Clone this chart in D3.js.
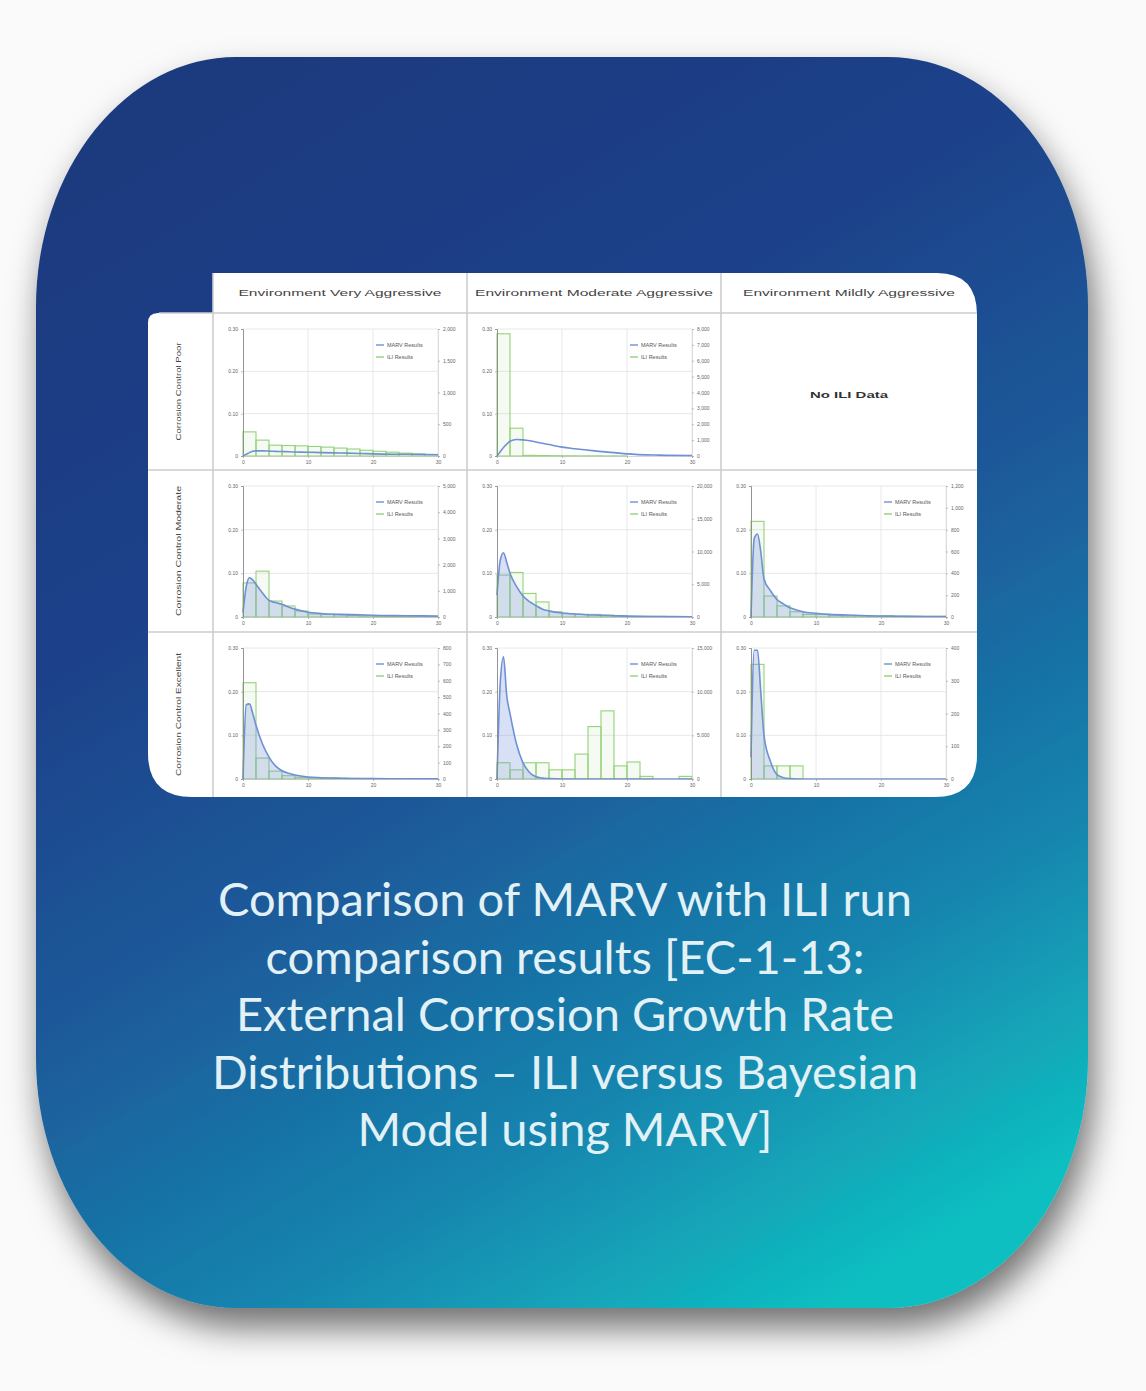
<!DOCTYPE html>
<html><head><meta charset="utf-8">
<script src="https://cdn.jsdelivr.net/npm/d3@7"></script>
<style>
html,body{margin:0;padding:0;background:#fafafa;}
svg{display:block;}
</style></head><body>
<svg id="c" width="1146" height="1391"></svg>
<script>
// ---------- data ----------
const colHeaders = ["Environment Very Aggressive", "Environment Moderate Aggressive", "Environment Mildly Aggressive"];
const rowHeaders = ["Corrosion Control Poor", "Corrosion Control Moderate", "Corrosion Control Excellent"];
const legendLabels = ["MARV Results", "ILI Results"];
const noDataText = "No ILI Data";
const xTicks = [0, 10, 20, 30];
const binStarts = [0, 2, 4, 6, 8, 10, 12, 14, 16, 18, 20, 22, 24, 26, 28];
const binWidth = 2;
const curveX = [0, 0.5, 1, 1.5, 2, 3, 4, 5, 6, 7, 8, 10, 12, 15, 18, 20, 25, 30];
const leftTicks = [0, 0.1, 0.2, 0.3];

// Poor / Very
const rightTicksPoorVery = [0, 500, 1000, 1500, 2000];
const iliPoorVery = [380, 250, 170, 165, 160, 150, 140, 125, 110, 90, 75, 60, 45, 35, 25];
const marvPoorVery = [0, 0.004, 0.008, 0.011, 0.012, 0.012, 0.0115, 0.011, 0.0105, 0.01, 0.0095, 0.009, 0.008, 0.007, 0.006, 0.005, 0.004, 0.003];
// Poor / Moderate
const rightTicksPoorModerate = [0, 1000, 2000, 3000, 4000, 5000, 6000, 7000, 8000];
const iliPoorModerate = [7700, 1750, 40, 30, 20, 15, 10, 10, 5, 5, 0, 0, 0, 0, 0];
const marvPoorModerate = [0, 0.01, 0.02, 0.028, 0.035, 0.039, 0.038, 0.036, 0.033, 0.03, 0.027, 0.021, 0.017, 0.012, 0.008, 0.005, 0.002, 0.001];
// Moderate / Very
const rightTicksModVery = [0, 1000, 2000, 3000, 4000, 5000];
const iliModVery = [1300, 1750, 610, 420, 230, 115, 100, 80, 60, 50, 40, 30, 20, 15, 10];
const marvModVery = [0.01, 0.07, 0.09, 0.085, 0.075, 0.055, 0.038, 0.033, 0.029, 0.023, 0.018, 0.011, 0.008, 0.006, 0.005, 0.004, 0.003, 0.002];
// Moderate / Moderate
const rightTicksModModerate = [0, 5000, 10000, 15000, 20000];
const iliModModerate = [6400, 6800, 3600, 2300, 800, 500, 400, 400, 300, 200, 100, 100, 100, 60, 60];
const marvModModerate = [0.05, 0.13, 0.147, 0.125, 0.1, 0.07, 0.048, 0.035, 0.026, 0.018, 0.014, 0.009, 0.007, 0.0045, 0.003, 0.002, 0.001, 0.0006];
// Moderate / Mildly
const rightTicksModMildly = [0, 200, 400, 600, 800, 1000, 1200];
const iliModMildly = [876, 192, 102, 48, 24, 24, 18, 12, 12, 6, 12, 6, 6, 6, 6];
const marvModMildly = [0, 0.18, 0.19, 0.15, 0.087, 0.06, 0.04, 0.03, 0.021, 0.016, 0.012, 0.0085, 0.006, 0.0045, 0.003, 0.0024, 0.0015, 0.001];
// Excellent / Very
const rightTicksExcVery = [0, 100, 200, 300, 400, 500, 600, 700, 800];
const iliExcVery = [588, 128, 48, 20, 10, 8, 6, 5, 4, 3, 2, 2, 2, 1, 1];
const marvExcVery = [0, 0.17, 0.172, 0.15, 0.123, 0.08, 0.05, 0.03, 0.019, 0.013, 0.009, 0.0045, 0.003, 0.0018, 0.001, 0.0009, 0.0005, 0.0003];
// Excellent / Moderate
const rightTicksExcModerate = [0, 5000, 10000, 15000];
const iliExcModerate = [1860, 1050, 1860, 1860, 1050, 1050, 2850, 6000, 7800, 1500, 1950, 300, 0, 0, 300];
const marvExcModerate = [0, 0.22, 0.28, 0.19, 0.15, 0.08, 0.037, 0.015, 0.005, 0.002, 0.001, 0, 0, 0, 0, 0, 0, 0];
// Excellent / Mildly
const rightTicksExcMildly = [0, 100, 200, 300, 400];
const iliExcMildly = [350, 40, 40, 40, 0, 0, 0, 0, 0, 0, 0, 0, 0, 0, 0];
const marvExcMildly = [0.05, 0.295, 0.295, 0.2, 0.1, 0.04, 0.01, 0.003, 0.001, 0, 0, 0, 0, 0, 0, 0, 0, 0];

const captionLines = [
  "Comparison of MARV with ILI run",
  "comparison results [EC-1-13:",
  "External Corrosion Growth Rate",
  "Distributions \u2013 ILI versus Bayesian",
  "Model using MARV]"
];

// panel table built from the arrays above
const panels = [
  {row:0, col:0, rt:rightTicksPoorVery, ili:iliPoorVery, marv:marvPoorVery, fill:false},
  {row:0, col:1, rt:rightTicksPoorModerate, ili:iliPoorModerate, marv:marvPoorModerate, fill:false},
  {row:1, col:0, rt:rightTicksModVery, ili:iliModVery, marv:marvModVery, fill:true},
  {row:1, col:1, rt:rightTicksModModerate, ili:iliModModerate, marv:marvModModerate, fill:true},
  {row:1, col:2, rt:rightTicksModMildly, ili:iliModMildly, marv:marvModMildly, fill:true},
  {row:2, col:0, rt:rightTicksExcVery, ili:iliExcVery, marv:marvExcVery, fill:true},
  {row:2, col:1, rt:rightTicksExcModerate, ili:iliExcModerate, marv:marvExcModerate, fill:true},
  {row:2, col:2, rt:rightTicksExcMildly, ili:iliExcMildly, marv:marvExcMildly, fill:true}
];

// ---------- layout ----------
const svg = d3.select("#c");
const defs = svg.append("defs");
const grad = defs.append("linearGradient").attr("id","bg")
  .attr("x1","0.25").attr("y1","0").attr("x2","0.75").attr("y2","1");
[[0,"#1b3a7f"],[0.3,"#1c418a"],[0.55,"#1b5c9b"],[0.78,"#1784ae"],[1,"#0fbfc1"]]
  .forEach(([o,c]) => grad.append("stop").attr("offset",o).attr("stop-color",c));
const sh = defs.append("filter").attr("id","sh").attr("x","-20%").attr("y","-20%").attr("width","140%").attr("height","150%");
sh.append("feDropShadow").attr("dx",6).attr("dy",20).attr("stdDeviation",17)
  .attr("flood-color","#000").attr("flood-opacity",0.55);

// card
const L=36, R=1088, T=57, B=1308, rx=200, ry=250;
const cardPath = `M${L+rx},${T} H${R-rx} A${rx},${ry} 0 0 1 ${R},${T+ry} V${B-ry} A${rx},${ry} 0 0 1 ${R-rx},${B} H${L+rx} A${rx},${ry} 0 0 1 ${L},${B-ry} V${T+ry} A${rx},${ry} 0 0 1 ${L+rx},${T} Z`;
svg.append("path").attr("d",cardPath).attr("fill","url(#bg)").attr("filter","url(#sh)");

// white chart panel
const colX = [213, 467, 721, 977];
const rowY = [313, 470, 632, 797];
const pL = 148, hT = 273;
const panelPath = `M213,${hT} H937 Q977,${hT} 977,${hT+42} V755 Q977,797 935,797 H192 Q${pL},797 ${pL},753 V323 Q${pL},313 158,313 H213 Z`;
svg.append("path").attr("d",panelPath).attr("fill","#ffffff");

const grid = svg.append("g").attr("stroke","#cdcdcd").attr("stroke-width",1.6);
[213, 467, 721].forEach(x => grid.append("line").attr("x1",x).attr("x2",x).attr("y1",hT).attr("y2",797));
[470, 632].forEach(y => grid.append("line").attr("x1",pL).attr("x2",977).attr("y1",y).attr("y2",y));
grid.append("line").attr("x1",159).attr("x2",977).attr("y1",313).attr("y2",313);

// headers
const hdrLen = [203, 238, 212];
colHeaders.forEach((h,i) => {
  svg.append("text").attr("x",(colX[i]+colX[i+1])/2).attr("y",296)
    .attr("text-anchor","middle").attr("font-family","Liberation Sans, Arial, sans-serif")
    .attr("font-size",8.5).attr("fill","#444")
    .attr("textLength",hdrLen[i]).attr("lengthAdjust","spacingAndGlyphs").text(h);
});
const rowLen = [98, 130, 123];
rowHeaders.forEach((h,i) => {
  const cy = (rowY[i]+rowY[i+1])/2;
  svg.append("text").attr("transform",`translate(181,${cy}) rotate(-90)`)
    .attr("text-anchor","middle").attr("font-family","Liberation Sans, Arial, sans-serif")
    .attr("font-size",8).attr("fill","#444")
    .attr("textLength",rowLen[i]).attr("lengthAdjust","spacingAndGlyphs").text(h);
});

// no data cell
svg.append("text").attr("x",(colX[2]+colX[3])/2).attr("y",398)
  .attr("text-anchor","middle").attr("font-family","Liberation Sans, Arial, sans-serif")
  .attr("font-size",8.5).attr("font-weight","bold").attr("fill","#333")
  .attr("textLength",78).attr("lengthAdjust","spacingAndGlyphs").text(noDataText);

const blue = "#6f90d6", green = "#95d27a";
const fmtL = v => v === 0 ? "0" : d3.format(".2f")(v);
const fmtR = d3.format(",");

panels.forEach(p => {
  const cx = colX[p.col], cy = rowY[p.row];
  const pl = cx + 30, pr = pl + 195;
  const pt = cy + 16, pb = cy + (p.row===0 ? 143 : 147);
  const x = d3.scaleLinear().domain([0,30]).range([pl,pr]);
  const yL = d3.scaleLinear().domain([0,d3.max(leftTicks)]).range([pb,pt]);
  const yR = d3.scaleLinear().domain([0,d3.max(p.rt)]).range([pb,pt]);
  const g = svg.append("g");

  // gridlines
  g.selectAll(".gh").data(leftTicks.slice(1)).join("line")
    .attr("x1",pl).attr("x2",pr).attr("y1",d=>yL(d)).attr("y2",d=>yL(d))
    .attr("stroke","#e2e2e2").attr("stroke-width",0.8);
  g.selectAll(".gv").data(xTicks.slice(1)).join("line")
    .attr("x1",d=>x(d)).attr("x2",d=>x(d)).attr("y1",pt).attr("y2",pb)
    .attr("stroke","#e2e2e2").attr("stroke-width",0.8);

  // ILI histogram
  g.selectAll(".bar").data(p.ili).join("rect")
    .attr("x",(d,i)=>x(binStarts[i])).attr("width",(d,i)=>x(binStarts[i]+binWidth)-x(binStarts[i]))
    .attr("y",d=>yR(d)).attr("height",d=>yR(0)-yR(d))
    .attr("fill","rgba(160,220,130,0.10)").attr("stroke",green).attr("stroke-width",1.1);

  // MARV curve
  const pts = curveX.map((xv,i)=>[xv,p.marv[i]]);
  if (p.fill) {
    g.append("path").datum(pts)
      .attr("d",d3.area().x(d=>x(d[0])).y0(yL(0)).y1(d=>yL(d[1])).curve(d3.curveMonotoneX))
      .attr("fill","rgba(115,145,220,0.28)");
  }
  g.append("path").datum(pts)
    .attr("d",d3.line().x(d=>x(d[0])).y(d=>yL(d[1])).curve(d3.curveMonotoneX))
    .attr("fill","none").attr("stroke",blue).attr("stroke-width",1.6);

  // axes
  const axL = g.append("g").attr("transform",`translate(${pl},0)`)
    .call(d3.axisLeft(yL).tickValues(leftTicks).tickSize(2).tickPadding(3).tickFormat(fmtL));
  const axR = g.append("g").attr("transform",`translate(${pr},0)`)
    .call(d3.axisRight(yR).tickValues(p.rt).tickSize(2).tickPadding(3).tickFormat(fmtR));
  const axB = g.append("g").attr("transform",`translate(0,${pb})`)
    .call(d3.axisBottom(x).tickValues(xTicks).tickSize(2).tickPadding(2).tickFormat(d3.format("d")));
  [axL,axR,axB].forEach(a => {
    a.selectAll("text").attr("font-size",5).attr("fill","#666").attr("font-family","Liberation Sans, Arial, sans-serif");
    a.selectAll("line").attr("stroke","#999").attr("stroke-width",0.6);
  });
  axL.select(".domain").attr("stroke","#888").attr("stroke-width",0.9);
  axR.select(".domain").attr("stroke","#ccc").attr("stroke-width",0.6);
  axB.select(".domain").attr("stroke","#bbb").attr("stroke-width",0.6);

  // legend
  const lx = pr - 62, ly = pt + 16;
  [[blue,legendLabels[0]],[green,legendLabels[1]]].forEach(([c,t],i) => {
    g.append("line").attr("x1",lx).attr("x2",lx+8).attr("y1",ly+i*12).attr("y2",ly+i*12)
      .attr("stroke",c).attr("stroke-width",1.4);
    g.append("text").attr("x",lx+11).attr("y",ly+i*12+2).attr("font-size",5.5)
      .attr("font-family","Liberation Sans, Arial, sans-serif").attr("fill","#555").text(t);
  });
});

// caption
const cap = svg.append("g");
captionLines.forEach((t,i) => {
  cap.append("text").attr("x",565).attr("y",916 + i*57.5)
    .attr("text-anchor","middle").attr("font-family","Lato, 'Open Sans', sans-serif")
    .attr("font-size",47).attr("fill","#e2f1f6").text(t);
});
</script>
</body></html>
